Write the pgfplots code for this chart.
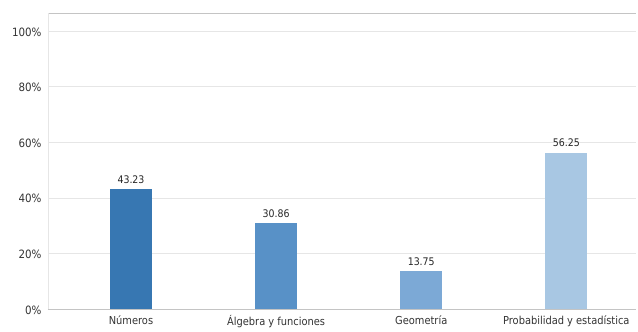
\documentclass[border=0pt]{standalone}
\usepackage{pgfplots}
\pgfplotsset{compat=1.18}
\usepackage{fontspec}
\setmainfont{DejaVu Sans Condensed}
\definecolor{c1}{HTML}{3777B2}
\definecolor{c2}{HTML}{5891C7}
\definecolor{c3}{HTML}{7CA9D6}
\definecolor{c4}{HTML}{A8C7E3}
\definecolor{gridc}{HTML}{E6E6E6}
\definecolor{axc}{HTML}{C4C4C4}
\begin{document}
\begin{tikzpicture}
\begin{axis}[
  scale only axis,
  width=588bp, height=296bp,
  at={(0,0)}, anchor=south west,
  xmin=-0.572, xmax=3.48,
  ymin=0, ymax=106.5,
  xtick={0,1,2,3},
  xticklabels={Números,Álgebra y funciones,Geometría,Probabilidad y estadística},
  ytick={0,20,40,60,80,100},
  yticklabel={\pgfmathprintnumber{\tick}\%},
  /pgf/number format/assume math mode=true,
  ymajorgrids, grid style={gridc, line width=0.6pt},
  axis line style={axc, line width=0.7pt},
  axis x line*=bottom, axis y line*=left,
  major tick length=0pt,
  ticklabel style={font=\fontsize{11}{12}\selectfont, text=black!80},
  xticklabel style={yshift=-3bp},
  yticklabel style={xshift=-3bp, yshift=-1bp, font=\fontsize{11.5}{12}\selectfont},
  ybar, bar width=42bp, bar shift=0pt,
  nodes near coords,
  nodes near coords style={font=\fontsize{10.5}{11}\selectfont, text=black!85, yshift=2bp},
  point meta=explicit symbolic,
  clip=false,
]
\addplot[fill=c1, draw=none] coordinates {(0,43.23) [43.23]};
\addplot[fill=c2, draw=none] coordinates {(1,30.86) [30.86]};
\addplot[fill=c3, draw=none] coordinates {(2,13.75) [13.75]};
\addplot[fill=c4, draw=none] coordinates {(3,56.25) [56.25]};
\draw[axc, line width=0.7pt] (rel axis cs:0,1) -- (rel axis cs:1,1);
\draw[gridc, line width=0.6pt] (rel axis cs:0,0) -- (rel axis cs:0,1);
\end{axis}
\useasboundingbox (-48bp,-22bp) rectangle (590bp,309bp);
\end{tikzpicture}
\end{document}
